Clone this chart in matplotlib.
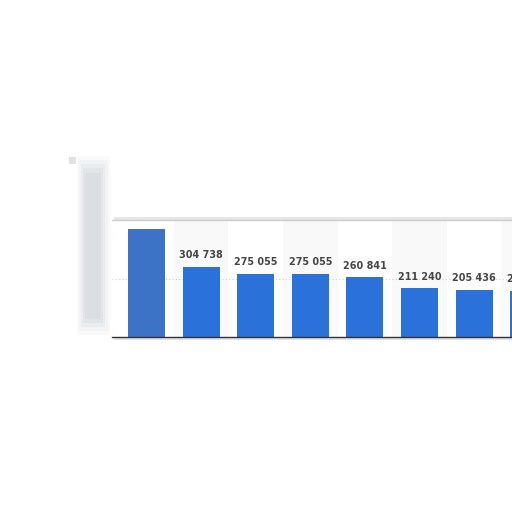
import numpy as np
import matplotlib
matplotlib.use("Agg")
import matplotlib.pyplot as plt
from matplotlib.patches import Rectangle

# values (first bar has no readable label, last one is cut)
values = [470000, 304738, 275055, 275055, 260841, 211240, 205436, 201500]
labels = ["", "304 738", "275 055", "275 055", "260 841", "211 240", "205 436", "201 500"]
bar_colors = ["#3c73c6"] + ["#2a72d9"] * 7

fig = plt.figure(figsize=(5.12, 5.12), dpi=100)
fig.patch.set_facecolor("white")

# blurry grey strip on the left of the panel
for i, a in enumerate([0.05, 0.06, 0.07, 0.08, 0.08]):
    fig.patches.append(Rectangle((0.150 + i * 0.004, 0.345 + i * 0.008), 0.064 - i * 0.008, 0.35 - i * 0.016,
                                 transform=fig.transFigure, color="#8a95a2", alpha=a, lw=0, zorder=-2))
fig.patches.append(Rectangle((0.135, 0.68), 0.014, 0.014, transform=fig.transFigure,
                             color="#c0c5ca", alpha=0.5, lw=0, zorder=-2))
# soft shadow around the panel
fig.patches.append(Rectangle((0.222, 0.336), 0.80, 0.241, transform=fig.transFigure,
                             color="#e6e6e6", lw=0, zorder=-1))

ax = fig.add_axes([0.219, 0.342, 0.853, 0.228])
ax.set_zorder(1)
ax.set_facecolor("white")
x = np.arange(len(values))

# alternating column bands
for i in x:
    if i % 2 == 1:
        ax.axvspan(i - 0.5, i + 0.5, color="#f9f9f9", lw=0, zorder=0)

ax.axhline(250000, color="#cfcfcf", lw=0.8, ls=(0, (1, 2)), zorder=1)
bars = ax.bar(x, values, width=0.68, color=bar_colors, zorder=2)
for b, lab in zip(bars, labels):
    if lab:
        ax.annotate(lab, (b.get_x() + b.get_width() / 2, b.get_height()),
                    xytext=(0, 4.5), textcoords="offset points", ha="center", va="bottom",
                    fontsize=6.9, fontweight="bold", color="#454545")

ax.set_xlim(-0.63, 7.37)
ax.set_ylim(0, 507000)
ax.set_xticks([])
ax.set_yticks([])
for s in ["left", "right"]:
    ax.spines[s].set_visible(False)
ax.spines["top"].set_color("#cccccc")
ax.spines["top"].set_linewidth(1.0)
ax.spines["bottom"].set_color("#333333")
ax.spines["bottom"].set_linewidth(1.0)

fig.savefig("out.png", dpi=100, facecolor="white")
